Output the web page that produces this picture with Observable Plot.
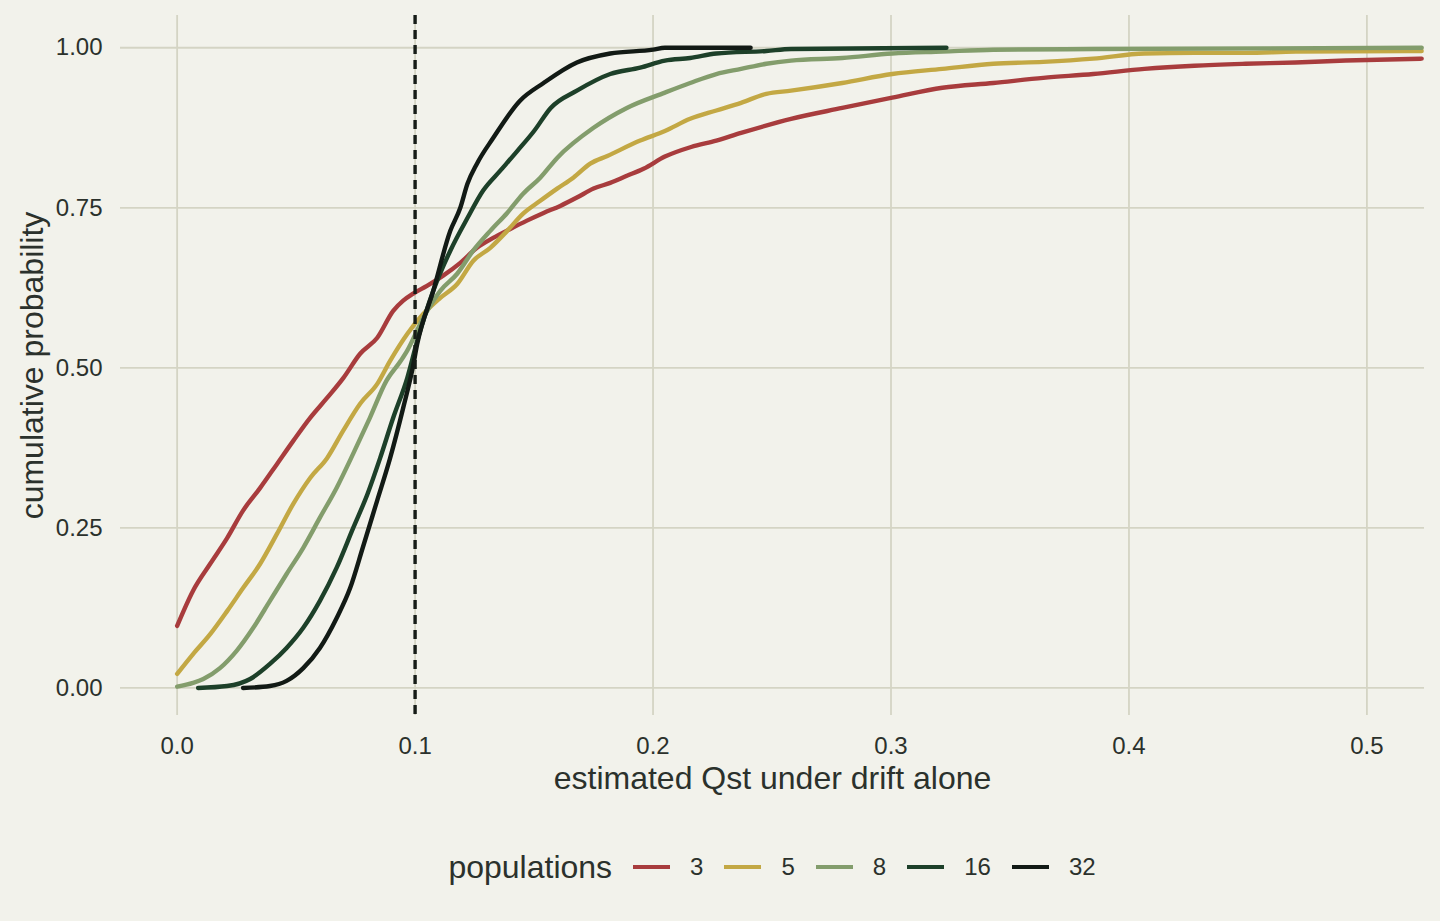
<!DOCTYPE html>
<html>
<head>
<meta charset="utf-8">
<script src="https://cdn.jsdelivr.net/npm/d3@7"></script>
<script src="https://cdn.jsdelivr.net/npm/@observablehq/plot@0.6"></script>
<style>
  html, body { margin: 0; padding: 0; background: #f2f2eb; }
  body { width: 1440px; height: 921px; overflow: hidden; font-family: "Liberation Sans", Arial, sans-serif; }
  #legend { position: absolute; left: 120px; width: 1304px; top: 845px; height: 44px;
            display: flex; justify-content: center; align-items: center; color: #2b312c; }
  #legend .title { font-size: 32px; margin-right: 21px; }
  #legend .key { display: inline-block; width: 37px; height: 4px; margin-right: 20px; }
  #legend .lab { font-size: 24px; margin-right: 21px; }
</style>
</head>
<body>
<div id="chart"></div>
<div id="legend"></div>
<script>
// populations (legend order) and colours
const populations = ["3", "5", "8", "16", "32"];
const colors = ["#a83c3d", "#c3a844", "#839d6c", "#1d4029", "#121a15"];

// ECDF readings: [estimated Qst, cumulative probability]
const pop3 = [
  [0,0.097],[0.0067,0.152],[0.0139,0.194],[0.021,0.234],[0.0277,0.277],[0.0349,0.3125],
  [0.042,0.35],[0.0488,0.386],[0.0559,0.422],[0.063,0.453],[0.0698,0.484],[0.0769,0.522],
  [0.0841,0.547],[0.0908,0.589],[0.095,0.605],[0.0992,0.616],[0.105,0.628],[0.1118,0.644],
  [0.119,0.664],[0.126,0.6875],[0.1328,0.703],[0.14,0.717],[0.147,0.730],[0.154,0.742],
  [0.161,0.753],[0.168,0.766],[0.175,0.780],[0.182,0.789],[0.189,0.800],[0.196,0.811],
  [0.205,0.830],[0.216,0.845],[0.2266,0.855],[0.237,0.867],[0.258,0.889],[0.2795,0.906],
  [0.3005,0.922],[0.3216,0.9375],[0.343,0.945],[0.364,0.953],[0.385,0.959],[0.4065,0.967],
  [0.4275,0.972],[0.449,0.975],[0.47,0.977],[0.491,0.980],[0.523,0.983]
];
const pop5 = [
  [0,0.022],[0.0067,0.053],[0.0139,0.084],[0.021,0.120],[0.0277,0.156],[0.0349,0.194],
  [0.042,0.241],[0.0488,0.2875],[0.0559,0.328],[0.063,0.359],[0.0698,0.402],[0.0769,0.444],
  [0.0841,0.475],[0.0895,0.511],[0.0967,0.553],[0.1034,0.584],[0.1105,0.609],[0.1177,0.631],
  [0.1244,0.667],[0.1316,0.6875],[0.1387,0.714],[0.1454,0.741],[0.1526,0.761],[0.1597,0.780],
  [0.1665,0.797],[0.1736,0.819],[0.1808,0.831],[0.1946,0.855],[0.205,0.870],[0.2156,0.889],
  [0.2266,0.902],[0.237,0.914],[0.2476,0.928],[0.258,0.933],[0.2795,0.945],[0.3005,0.959],
  [0.3216,0.967],[0.343,0.975],[0.364,0.978],[0.385,0.983],[0.4065,0.991],[0.4275,0.992],
  [0.449,0.992],[0.47,0.994],[0.523,0.995]
];
const pop8 = [
  [0,0.002],[0.0067,0.008],[0.011,0.014],[0.018,0.031],[0.025,0.058],[0.032,0.094],
  [0.039,0.136],[0.046,0.178],[0.053,0.219],[0.060,0.266],[0.067,0.3125],[0.074,0.366],
  [0.081,0.422],[0.088,0.48],[0.094,0.511],[0.0967,0.527],[0.1034,0.578],[0.1105,0.620],
  [0.1177,0.647],[0.1244,0.683],[0.1316,0.714],[0.1387,0.742],[0.1454,0.772],[0.1526,0.797],
  [0.1597,0.828],[0.175,0.875],[0.189,0.906],[0.205,0.930],[0.2156,0.945],[0.2266,0.959],
  [0.237,0.967],[0.2476,0.975],[0.258,0.980],[0.2795,0.984],[0.3005,0.991],[0.3216,0.994],
  [0.343,0.997],[0.385,0.998],[0.523,1.0]
];
const pop16 = [
  [0.0088,0],[0.021,0.003],[0.0307,0.014],[0.039,0.0375],[0.046,0.0625],[0.053,0.094],
  [0.060,0.136],[0.067,0.1875],[0.074,0.25],[0.080,0.303],[0.0853,0.359],[0.0908,0.422],
  [0.0967,0.484],[0.1009,0.542],[0.1076,0.620],[0.1148,0.683],[0.122,0.734],[0.1286,0.777],
  [0.1358,0.808],[0.143,0.839],[0.150,0.870],[0.157,0.906],[0.168,0.933],[0.182,0.959],
  [0.1946,0.969],[0.205,0.980],[0.2156,0.984],[0.2266,0.991],[0.2476,0.995],[0.258,0.998],
  [0.3233,1.0]
];
const pop32 = [
  [0.0277,0],[0.039,0.003],[0.046,0.011],[0.053,0.031],[0.060,0.0625],[0.067,0.109],
  [0.0727,0.156],[0.078,0.219],[0.084,0.292],[0.0895,0.359],[0.095,0.4375],[0.099,0.5],
  [0.1009,0.5375],[0.1076,0.620],[0.1148,0.714],[0.119,0.75],[0.122,0.7875],[0.126,0.819],
  [0.1328,0.859],[0.144,0.917],[0.154,0.945],[0.168,0.977],[0.182,0.991],[0.200,0.997],
  [0.205,1.0],[0.241,1.0]
];

const xTicks = [0, 0.1, 0.2, 0.3, 0.4, 0.5];
const yTicks = [0, 0.25, 0.5, 0.75, 1];
const driftLine = [0.1];

const series = [pop3, pop5, pop8, pop16, pop32];
const rows = series.flatMap((s, i) => s.map(([q, p]) => ({q, p, pop: populations[i]})));

const textColor = "#2b312c";
const gridColor = "#d4d4c4";

const chart = Plot.plot({
  width: 1440,
  height: 815,
  marginLeft: 120,
  marginRight: 16,
  marginTop: 15,
  marginBottom: 100,
  style: {background: "#f2f2eb", fontFamily: "Liberation Sans, Arial, sans-serif", color: textColor},
  x: {domain: [-0.0238, 0.5242], ticks: xTicks},
  y: {domain: [-0.043, 1.0504], ticks: yTicks},
  color: {domain: populations, range: colors},
  marks: [
    Plot.gridX(xTicks, {stroke: gridColor, strokeOpacity: 1, strokeWidth: 1.8}),
    Plot.gridY(yTicks, {stroke: gridColor, strokeOpacity: 1, strokeWidth: 1.8}),
    Plot.axisX(xTicks, {tickSize: 0, tickPadding: 21, fontSize: 24, fill: textColor, label: null, tickFormat: d3.format(".1f")}),
    Plot.axisY(yTicks, {tickSize: 0, tickPadding: 18, fontSize: 24, fill: textColor, label: null, tickFormat: d3.format(".2f")}),
    Plot.line(rows, {x: "q", y: "p", z: "pop", stroke: "pop", strokeWidth: 4.4, curve: "monotone-x", clip: true}),
    Plot.ruleX(driftLine, {stroke: "#161c17", strokeWidth: 3.4, strokeDasharray: "9,6"}),
    Plot.text(["estimated Qst under drift alone"], {frameAnchor: "bottom", dy: 63, lineAnchor: "middle", fontSize: 32, fill: textColor}),
    Plot.text(["cumulative probability"], {frameAnchor: "left", dx: -88, rotate: -90, textAnchor: "middle", lineAnchor: "middle", fontSize: 32, fill: textColor})
  ]
});
document.getElementById("chart").appendChild(chart);

const legend = document.getElementById("legend");
const t = document.createElement("span");
t.className = "title"; t.textContent = "populations";
legend.appendChild(t);
populations.forEach((p, i) => {
  const k = document.createElement("span");
  k.className = "key"; k.style.background = colors[i];
  legend.appendChild(k);
  const l = document.createElement("span");
  l.className = "lab"; l.textContent = p;
  if (i === populations.length - 1) l.style.marginRight = "0";
  legend.appendChild(l);
});
</script>
</body>
</html>
